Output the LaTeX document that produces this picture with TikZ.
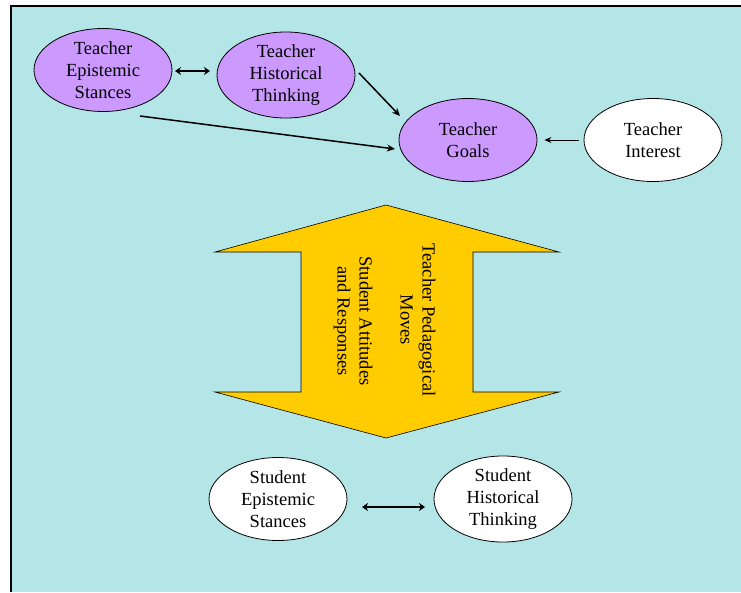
\documentclass[tikz,border=0pt]{standalone}
\usepackage{fontspec}
\setmainfont{Liberation Serif}
\usetikzlibrary{shapes.geometric,arrows.meta}
\definecolor{bgcyan}{HTML}{B4E5E7}
\definecolor{lilac}{HTML}{CC99FF}
\definecolor{gold}{HTML}{FFCC00}
\begin{document}
\begin{tikzpicture}[x=1pt,y=-1pt,
  bubble/.style={ellipse, draw=black, line width=0.8pt, minimum width=138pt,
    minimum height=83pt, inner sep=0pt, align=center,
    font=\fontsize{18.5}{22}\selectfont},
  teacher/.style={bubble, fill=lilac},
  plain/.style={bubble, fill=white},
  link/.style={-{Stealth[length=8pt,width=7pt]}, line width=1.5pt},
  thinlink/.style={-{Stealth[length=7pt,width=6pt]}, line width=0.9pt},
  both/.style={{Stealth[length=6pt,width=8pt]}-{Stealth[length=6pt,width=8pt]}, line width=2.6pt},
  vlabel/.style={rotate=-90, align=center, font=\fontsize{18.5}{22}\selectfont},
  bigarrow/.style={fill=gold, draw=black, line width=0.6pt, line join=miter}
]
\useasboundingbox (0,0) rectangle (741,592);
% panel
\fill[bgcyan] (11,6) rectangle (741,592);
\draw[line width=1.5pt] (11,592) -- (11,6) -- (741,6);

% teacher side
\node[teacher] (tes) at (103,70) {Teacher\\Epistemic\\Stances};
\node[teacher] (tht) at (286,75) {Teacher\\Historical\\Thinking};
\node[teacher] (goals) at (468,140) {Teacher\\Goals};
\node[plain] (interest) at (653,140) {Teacher\\Interest};

% student side
\node[plain] (ses) at (278,499) {Student\\Epistemic\\Stances};
\node[plain] (sht) at (503,499) {Student\\Historical\\Thinking};

% two-way block arrow
\draw[bigarrow] (386,205) -- (559,252) -- (473,252) -- (473,392) -- (559,392)
  -- (386,438) -- (215,392) -- (301,392) -- (301,252) -- (215,252) -- cycle;
\node[vlabel] (moves) at (418,320) {Teacher Pedagogical\\Moves};
\node[vlabel] (responses) at (353,321) {Student Attitudes\\and Responses};

% connectors
\draw[both] ([shift={(72,1)}]tes.center) -- ([shift={(-76,-4)}]tht.center);
\draw[link] ([shift={(73,-2)}]tht.center) -- ([shift={(-68,-24)}]goals.center);
\draw[link] ([shift={(37,46)}]tes.center) -- ([shift={(-73,9)}]goals.center);
\draw[thinlink, shorten <=5pt, shorten >=7pt] (interest) -- (goals);
\draw[both] ([shift={(84,8)}]ses.center) -- ([shift={(-78,8)}]sht.center);
\end{tikzpicture}
\end{document}
